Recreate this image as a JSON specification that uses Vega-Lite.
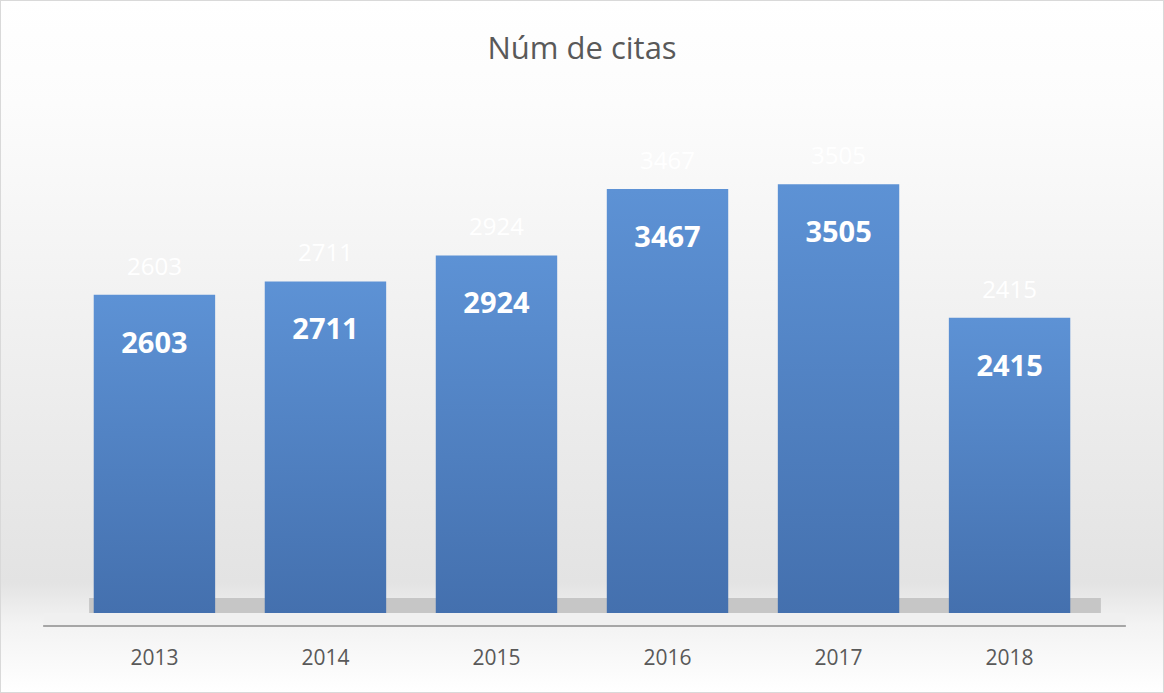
{
  "$schema": "https://vega.github.io/schema/vega-lite/v6.json",
  "width": 1164,
  "height": 693,
  "autosize": "none",
  "padding": 0,
  "background": "#ffffff",
  "title": {
    "text": "Núm de citas",
    "offset": -66,
    "fontSize": 31,
    "font": "Open Sans",
    "fontWeight": "normal",
    "color": "#595959",
    "anchor": "middle",
    "baseline": "top"
  },
  "config": {
    "view": {
      "stroke": "#d9d9d9",
      "strokeWidth": 2,
      "fill": {
        "gradient": "linear",
        "x1": 0, "y1": 0, "x2": 0, "y2": 1,
        "stops": [
          {"offset": 0, "color": "#ffffff"},
          {"offset": 0.15, "color": "#fcfcfc"},
          {"offset": 0.84, "color": "#e3e3e3"},
          {"offset": 0.9, "color": "#f3f3f3"},
          {"offset": 1, "color": "#ffffff"}
        ]
      }
    },
    "font": "Open Sans"
  },
  "data": {
    "values": [
      {"year": "2013", "citas": 2603},
      {"year": "2014", "citas": 2711},
      {"year": "2015", "citas": 2924},
      {"year": "2016", "citas": 3467},
      {"year": "2017", "citas": 3505},
      {"year": "2018", "citas": 2415}
    ]
  },
  "encoding": {
    "x": {
      "field": "year",
      "type": "nominal",
      "scale": {"paddingInner": 0.29, "paddingOuter": 0.548},
      "axis": {
        "title": null,
        "orient": "bottom",
        "offset": -46,
        "domain": false,
        "ticks": false,
        "labelAngle": 0,
        "labelPadding": 0,
        "labelFontSize": 21,
        "labelColor": "#595959",
        "labelFont": "Open Sans"
      }
    }
  },
  "layer": [
    {
      "mark": {"type": "rect", "color": "#c6c6c6", "xOffset": -4, "x2Offset": 30},
      "encoding": {
        "x": {"datum": "2013", "bandPosition": 0},
        "x2": {"datum": "2018", "bandPosition": 1},
        "y": {"datum": 0, "type": "quantitative", "scale": {"domain": [-654, 5012], "nice": false, "zero": false}, "axis": null},
        "y2": {"datum": 123}
      }
    },
    {
      "mark": {"type": "rect", "color": "#f0f0f0", "xOffset": -50, "x2Offset": 55},
      "encoding": {
        "x": {"datum": "2013", "bandPosition": 0},
        "x2": {"datum": "2018", "bandPosition": 1},
        "y": {"datum": -106, "type": "quantitative"},
        "y2": {"datum": 0}
      }
    },
    {
      "mark": {"type": "rule", "color": "#a6a6a6", "strokeWidth": 2, "xOffset": -50, "x2Offset": 55},
      "encoding": {
        "x": {"datum": "2013", "bandPosition": 0},
        "x2": {"datum": "2018", "bandPosition": 1},
        "y": {"datum": -106, "type": "quantitative"}
      }
    },
    {
      "mark": {
        "type": "bar",
        "color": {
          "gradient": "linear",
          "x1": 0, "y1": 0, "x2": 0, "y2": 1,
          "stops": [
            {"offset": 0, "color": "#5d92d5"},
            {"offset": 1, "color": "#4470ae"}
          ]
        }
      },
      "encoding": {
        "y": {"field": "citas", "type": "quantitative"}
      }
    },
    {
      "mark": {"type": "text", "dy": 49, "fontSize": 29, "fontWeight": "bold", "color": "#ffffff", "baseline": "middle"},
      "encoding": {
        "y": {"field": "citas", "type": "quantitative"},
        "text": {"field": "citas", "type": "quantitative", "format": "d"}
      }
    },
    {
      "mark": {"type": "text", "dy": -27, "fontSize": 24, "color": "#ffffff", "baseline": "middle"},
      "encoding": {
        "y": {"field": "citas", "type": "quantitative"},
        "text": {"field": "citas", "type": "quantitative", "format": "d"}
      }
    }
  ]
}
